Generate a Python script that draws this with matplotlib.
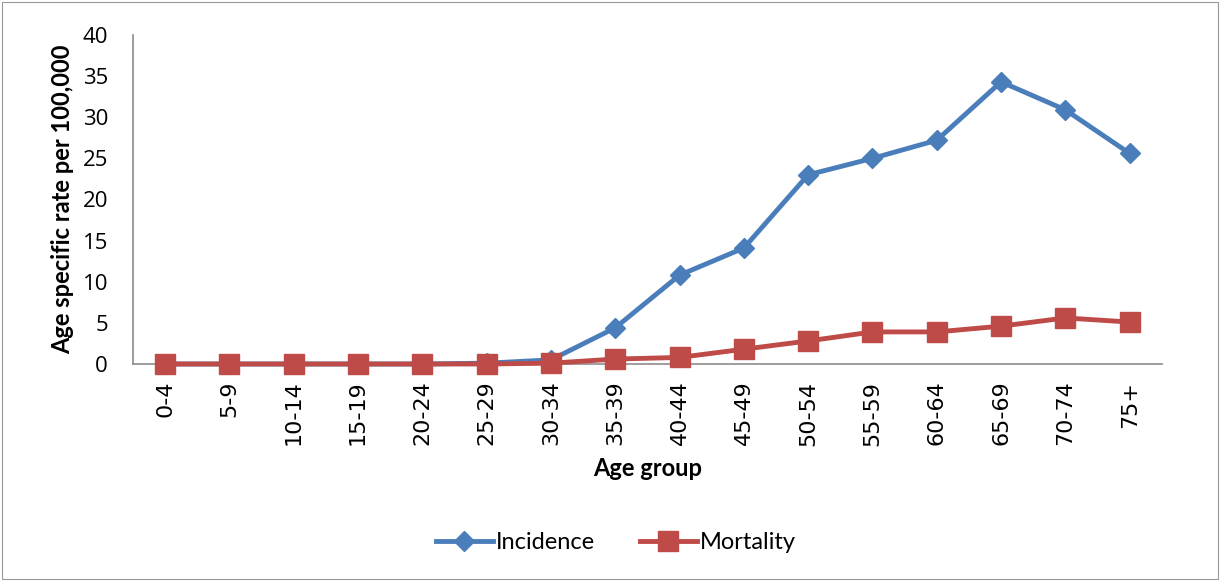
import matplotlib.pyplot as plt
from matplotlib.patches import Rectangle

age_groups = ['0-4', '5-9', '10-14', '15-19', '20-24', '25-29', '30-34', '35-39',
              '40-44', '45-49', '50-54', '55-59', '60-64', '65-69', '70-74', '75+']
incidence = [0, 0, 0, 0, 0, 0.1, 0.5, 4.4, 10.8, 14.1, 23.0, 25.0, 27.2, 34.3, 30.9, 25.6]
mortality = [0, 0, 0, 0, 0, 0, 0.1, 0.6, 0.8, 1.8, 2.8, 3.9, 3.9, 4.6, 5.6, 5.1]

plt.rcParams['font.family'] = ['Lato', 'DejaVu Sans']

fig = plt.figure(figsize=(12.2, 5.81), dpi=100)
ax = fig.add_axes([0.109, 0.3735, 0.8433, 0.5663])

x = list(range(len(age_groups)))
ax.plot(x, incidence, color='#4A7EBB', lw=3.5, marker='D', ms=10, label='Incidence', clip_on=False, zorder=3)
ax.plot(x, mortality, color='#BE4B48', lw=3.5, marker='s', ms=14, label='Mortality', clip_on=False, zorder=4)

ax.set_xlim(-0.5, len(age_groups) - 0.5)
ax.set_ylim(0, 40)
ax.set_yticks(range(0, 41, 5))
ax.set_xticks(x)
ax.set_xticklabels(age_groups, rotation=90)
for lbl in ax.get_yticklabels():
    lbl.set_family(['Open Sans', 'DejaVu Sans'])
for lbl in ax.get_xticklabels():
    lbl.set_family('DejaVu Sans')

for s in ['top', 'right']:
    ax.spines[s].set_visible(False)
for s in ['left', 'bottom']:
    ax.spines[s].set_color('#8C8C8C')
    ax.spines[s].set_linewidth(1.2)
ax.tick_params(axis='y', length=0, labelsize=16, pad=18)
ax.tick_params(axis='x', length=0, labelsize=16, pad=12)

ax.set_ylabel('Age specific rate per 100,000', fontsize=17, fontweight='bold', labelpad=6)
ax.set_xlabel('Age group', fontsize=17, fontweight='bold', labelpad=8)

fig.legend(loc='center', bbox_to_anchor=(0.505, 0.066), ncol=2, frameon=False,
           fontsize=17, handlelength=2.4, columnspacing=1.9, handletextpad=0.15)

fig.patches.append(Rectangle((0.002, 0.003), 0.996, 0.994, transform=fig.transFigure,
                             fill=False, edgecolor='#999999', lw=0.8))

plt.savefig('out.png', dpi=100)
